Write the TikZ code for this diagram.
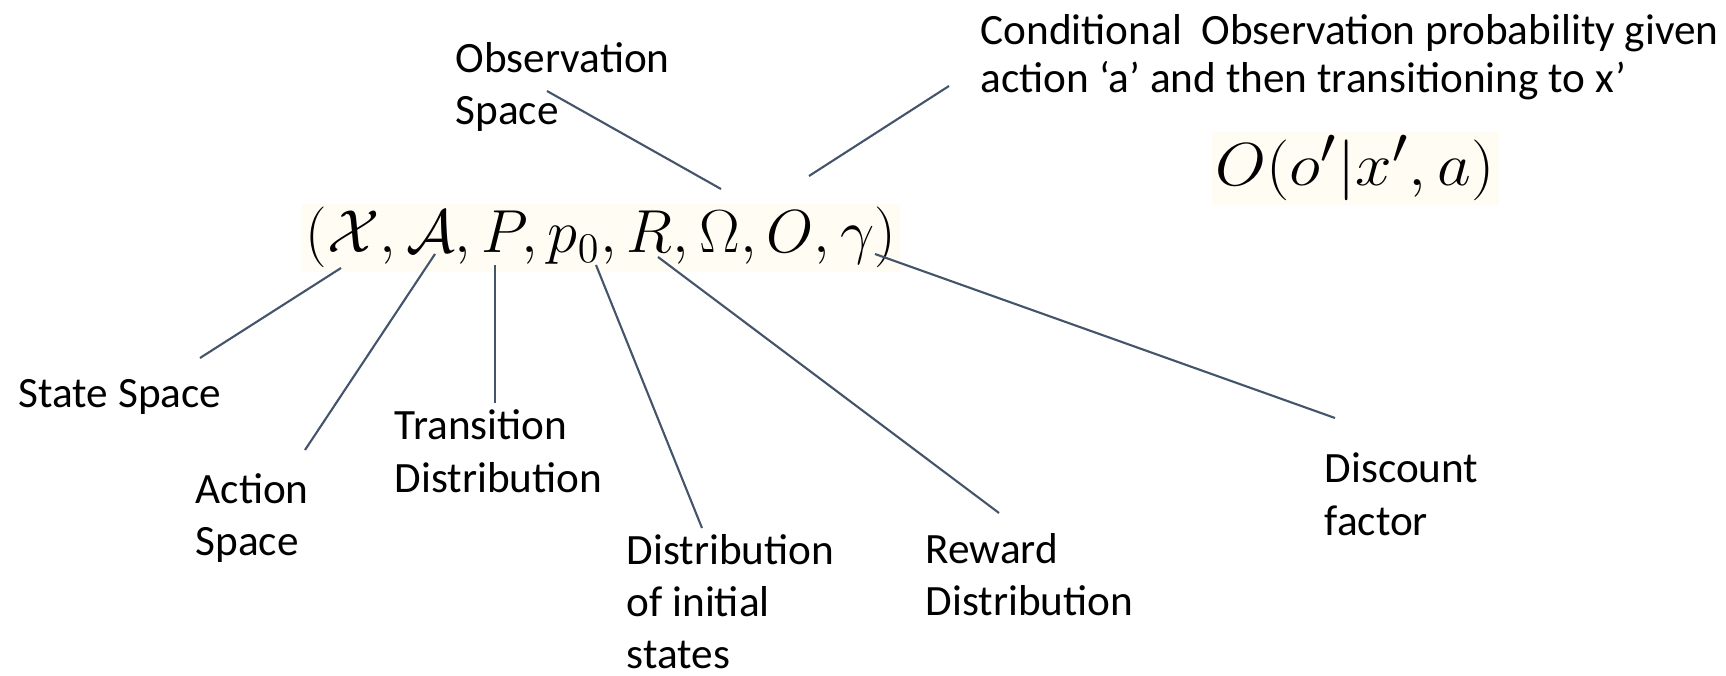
\documentclass[tikz,border=0pt]{standalone}
\usepackage{fontspec}
\setmainfont{Carlito}
\usepackage{amsmath}
\usepackage{tikz}

\begin{document}
\begin{tikzpicture}[x=0.01cm, y=-0.01cm,
  lbl/.style={font=\fontsize{12.3}{14.8}\selectfont, align=left, anchor=base west, inner sep=0pt},
  formula/.style={font=\fontsize{16.4}{20}\selectfont, anchor=base, inner sep=1pt, fill=bgMath},
  conn/.style={draw=lineCol, line width=0.6pt}]

% Colori
\definecolor{lineCol}{HTML}{44546A}
\definecolor{bgMath}{HTML}{FFFCF4}

\useasboundingbox (0,0) rectangle (1726,676);

% Tupla POMDP
\node[formula] (tuple) at (601,253) {$(\mathcal{X}, \mathcal{A}, P, p_0, R, \Omega, O, \gamma)$};
\node[formula, font=\fontsize{19}{23}\selectfont, xscale=1.08] (obsprob) at (1355,186) {$O(o'|x', a)$};

% Etichette (base = ultima riga)
\node[lbl] (obs) at (455,125) {Observation\\Space};
\node[lbl, font=\fontsize{12.3}{13.7}\selectfont] (cond) at (980,93) {Conditional~~Observation probability given\\action ‘a’ and then transitioning to x’};
\node[lbl] (state) at (18,408) {State Space};
\node[lbl] (action) at (195,556) {Action\\Space};
\node[lbl] (trans) at (394,492) {Transition\\Distribution};
\node[lbl] (init) at (626,669) {Distribution\\of initial\\states};
\node[lbl] (reward) at (925,616) {Reward\\Distribution};
\node[lbl] (disc) at (1324,535) {Discount\\factor};

% Estremi dei segmenti
\coordinate (obsA) at (547,91);   \coordinate (obsB) at (721,189);
\coordinate (condA) at (949,86);  \coordinate (condB) at (809,176);
\coordinate (stA) at (341,268);   \coordinate (stB) at (200,358);
\coordinate (acA) at (435,254);   \coordinate (acB) at (305,450);
\coordinate (trA) at (495,265);   \coordinate (trB) at (495,403);
\coordinate (inA) at (596,265);   \coordinate (inB) at (702,528);
\coordinate (rwA) at (658,257);   \coordinate (rwB) at (999,513);
\coordinate (dsA) at (875,254);   \coordinate (dsB) at (1335,418);

% Segmenti
\draw[conn] (obsA) -- (obsB);
\draw[conn] (condA) -- (condB);
\draw[conn] (stA) -- (stB);
\draw[conn] (acA) -- (acB);
\draw[conn] (trA) -- (trB);
\draw[conn] (inA) -- (inB);
\draw[conn] (rwA) -- (rwB);
\draw[conn] (dsA) -- (dsB);

\end{tikzpicture}
\end{document}
